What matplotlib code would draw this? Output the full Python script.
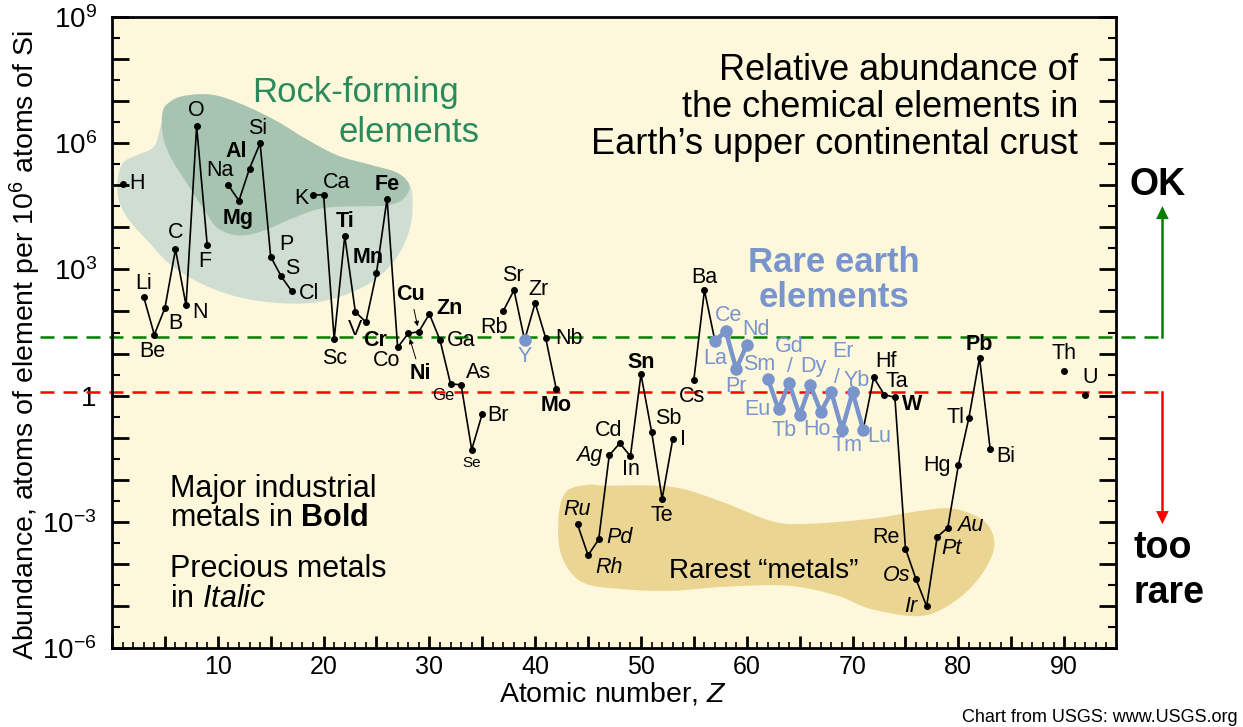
import numpy as np
import matplotlib.pyplot as plt
from matplotlib.ticker import FixedLocator, FuncFormatter, MultipleLocator
from matplotlib.transforms import blended_transform_factory

plt.rcParams['font.family'] = ['Liberation Sans', 'DejaVu Sans']
plt.rcParams['mathtext.fontset'] = 'custom'
plt.rcParams['mathtext.rm'] = 'Liberation Sans'
plt.rcParams['mathtext.it'] = 'Liberation Sans:italic'
plt.rcParams['mathtext.bf'] = 'Liberation Sans:bold'

# element data (abundance in atoms per 1e6 atoms of Si)
symbols = ['H', 'Li', 'Be', 'B', 'C', 'N', 'O', 'F',
           'Na', 'Mg', 'Al', 'Si', 'P', 'S', 'Cl',
           'K', 'Ca', 'Sc', 'Ti', 'V', 'Cr', 'Mn', 'Fe', 'Co', 'Ni', 'Cu', 'Zn',
           'Ga', 'Ge', 'As', 'Se', 'Br',
           'Rb', 'Sr', 'Y', 'Zr', 'Nb', 'Mo',
           'Ru', 'Rh', 'Pd', 'Ag', 'Cd', 'In', 'Sn', 'Sb', 'Te', 'I',
           'Cs', 'Ba', 'La', 'Ce', 'Pr', 'Nd',
           'Sm', 'Eu', 'Gd', 'Tb', 'Dy', 'Ho', 'Er', 'Tm', 'Yb', 'Lu',
           'Hf', 'Ta', 'W', 'Re', 'Os', 'Ir', 'Pt', 'Au', 'Hg', 'Tl', 'Pb', 'Bi',
           'Th', 'U']
atomic_z = [1, 3, 4, 5, 6, 7, 8, 9,
            11, 12, 13, 14, 15, 16, 17,
            19, 20, 21, 22, 23, 24, 25, 26, 27, 28, 29, 30,
            31, 32, 33, 34, 35,
            37, 38, 39, 40, 41, 42,
            44, 45, 46, 47, 48, 49, 50, 51, 52, 53,
            55, 56, 57, 58, 59, 60,
            62, 63, 64, 65, 66, 67, 68, 69, 70, 71,
            72, 73, 74, 75, 76, 77, 78, 79, 80, 81, 82, 83,
            90, 92]
abundance = [1.1e5, 220, 28, 120, 3000, 140, 2.5e6, 3800,
             1.0e5, 4.3e4, 2.5e5, 1.0e6, 2000, 680, 300,
             5.9e4, 5.9e4, 22, 6200, 98, 56, 830, 4.8e4, 14, 30, 33, 87,
             21, 1.9, 1.8, 0.052, 0.37,
             105, 320, 21, 160, 23, 1.4,
             8.7e-4, 1.6e-4, 3.8e-4, 0.038, 0.074, 0.036, 3.2, 0.14, 3.5e-3, 0.091,
             2.4, 320, 19.5, 35, 4.3, 16,
             2.5, 0.47, 2.0, 0.34, 1.8, 0.41, 1.2, 0.155, 1.2, 0.155,
             2.7, 1.05, 0.91, 2.3e-4, 4.3e-5, 9.8e-6, 4.4e-4, 7.2e-4, 0.022, 0.30, 7.9, 0.055,
             3.9, 1.05]

black_runs = [('Li', 'F'), ('Na', 'Cl'), ('K', 'Br'), ('Rb', 'Mo'),
              ('Ru', 'I'), ('Cs', 'La'), ('Lu', 'Bi')]
ree_runs = [('La', 'Nd'), ('Sm', 'Lu')]
ree_symbols = ['Y', 'La', 'Ce', 'Pr', 'Nd', 'Sm', 'Eu', 'Gd', 'Tb', 'Dy',
               'Ho', 'Er', 'Tm', 'Yb', 'Lu']
bold_symbols = ['Al', 'Mg', 'Ti', 'Mn', 'Cr', 'Fe', 'Ni', 'Cu', 'Zn',
                'Mo', 'Sn', 'W', 'Pb']
italic_symbols = ['Ru', 'Rh', 'Pd', 'Ag', 'Os', 'Ir', 'Pt', 'Au']
small_symbols = {'Ge': 12, 'Se': 11}

# label offsets (pixels, from the point)
label_offsets = {
    'H': (14, 0), 'Li': (0, 14), 'Be': (-2, -17), 'B': (10, -15), 'C': (0, 17),
    'N': (14, -7), 'O': (0, 16), 'F': (-2, -16), 'Na': (-8, 15), 'Mg': (-1, -18),
    'Al': (-13, 17), 'Si': (-2, 15), 'P': (16, 12), 'S': (11, 8), 'Cl': (17, -2),
    'K': (-12, -4), 'Ca': (13, 12), 'Sc': (0, -19), 'Ti': (0, 15), 'V': (0, -18),
    'Cr': (9, -18), 'Mn': (-8, 15), 'Fe': (0, 14), 'Co': (-11, -13),
    'Ni': (12, -40), 'Cu': (-8, 37), 'Zn': (20, 6), 'Ga': (21, -1),
    'Ge': (-7, -12), 'As': (17, 12), 'Se': (0, -13), 'Br': (16, -2),
    'Rb': (-9, -17), 'Sr': (-1, 15), 'Y': (0, -17), 'Zr': (3, 13), 'Nb': (23, 0),
    'Mo': (0, -16), 'Ru': (0, 15), 'Rh': (21, -12), 'Pd': (21, 2), 'Ag': (-20, 0),
    'Cd': (-11, 13), 'In': (1, -13), 'Sn': (0, 12), 'Sb': (17, 13), 'Te': (0, -17),
    'I': (10, 0), 'Cs': (-2, -17), 'Ba': (0, 13), 'La': (0, -17), 'Ce': (3, 15),
    'Pr': (0, -18), 'Nd': (9, 15), 'Sm': (-9, 14), 'Eu': (-21, 0), 'Gd': (0, 36),
    'Tb': (-16, -15), 'Dy': (3, 18), 'Ho': (-4, -18), 'Er': (12, 41), 'Tm': (5, -16),
    'Yb': (4, 12), 'Lu': (16, -7), 'Hf': (12, 16), 'Ta': (13, 13), 'W': (17, -7),
    'Re': (-20, 11), 'Os': (-19, 4), 'Ir': (-16, 0), 'Pt': (14, -12), 'Au': (22, 2),
    'Hg': (-21, 0), 'Tl': (-13, 0), 'Pb': (0, 13), 'Bi': (16, -8), 'Th': (0, 17),
    'U': (5, 17),
}
slash_offsets = {'Gd': (1, 16), 'Er': (5, 15)}

ok_level = 25
rare_level = 1.25

# outline shapes (Z, log10 abundance)
rock_outer = [(0.6, 5.24), (1.2, 5.57), (2.6, 5.74), (4.0, 5.93), (4.7, 6.48),
              (5.6, 7.0), (7.2, 7.14), (9.7, 7.14), (12.5, 6.9), (15.6, 6.52),
              (18.2, 6.12), (21.3, 5.71), (24.5, 5.48), (27.0, 5.29), (28.2, 4.98),
              (28.4, 4.57), (28.2, 4.02), (27.2, 3.4), (25.4, 2.86), (22.9, 2.48),
              (19.8, 2.24), (16.6, 2.19), (12.5, 2.31), (8.8, 2.62), (5.6, 3.1),
              (3.4, 3.67), (1.5, 4.21), (0.6, 4.69)]
rock_inner = [(4.8, 6.76), (5.6, 7.0), (7.2, 7.14), (9.7, 7.14), (12.5, 6.9),
              (15.6, 6.52), (18.2, 6.12), (21.3, 5.71), (24.5, 5.48), (27.0, 5.29),
              (28.1, 5.0), (27.6, 4.69), (26.0, 4.52), (22.9, 4.5), (19.8, 4.45),
              (17.0, 4.21), (14.1, 3.9), (11.9, 3.81), (10.0, 3.98), (8.8, 4.38),
              (7.2, 5.0), (5.6, 5.64), (4.8, 6.19)]
rare_metals = [(42.2, -2.93), (42.9, -2.29), (45.0, -2.12), (46.6, -2.14),
               (52.9, -2.17), (57.6, -2.52), (62.3, -2.98), (65.5, -3.05),
               (71.7, -2.93), (76.4, -2.74), (79.6, -2.69), (82.5, -3.0),
               (83.4, -3.57), (82.1, -4.29), (79.6, -4.9), (76.4, -5.24),
               (71.7, -5.07), (68.6, -4.76), (63.9, -4.52), (57.6, -4.55),
               (52.9, -4.64), (48.2, -4.6), (44.4, -4.43), (42.5, -3.81)]

bg = '#fdf8dc'
ree_blue = '#7a95cc'
green_txt = '#2b8a5c'

W, H = 1243, 727


def fpos(px, py):
    return px / W, 1 - py / H


def smooth_closed(pts, n=24):
    p = np.asarray(pts, float)
    m = len(p)
    t = np.linspace(0, 1, n, endpoint=False)[:, None]
    segs = []
    for i in range(m):
        p0, p1, p2, p3 = p[i - 1], p[i], p[(i + 1) % m], p[(i + 2) % m]
        segs.append(0.5 * (2 * p1 + (-p0 + p2) * t + (2 * p0 - 5 * p1 + 4 * p2 - p3) * t ** 2
                           + (-p0 + 3 * p1 - 3 * p2 + p3) * t ** 3))
    return np.vstack(segs)


idx = {s: i for i, s in enumerate(symbols)}
zz = np.array(atomic_z, float)
aa = np.array(abundance, float)

fig = plt.figure(figsize=(W / 100, H / 100), dpi=100)
ax = fig.add_axes([112 / W, 1 - 648 / H, (1116 - 112) / W, (648 - 17) / H])
ax.set_facecolor(bg)
ax.set_yscale('log')
ax.set_xlim(0, 94.9)
ax.set_ylim(1e-6, 1e9)

for shape, col in [(rock_outer, '#d0ddd2'), (rock_inner, '#a6c4b0'), (rare_metals, '#ebd592')]:
    xy = smooth_closed(shape)
    ax.fill(xy[:, 0], 10 ** xy[:, 1], color=col, lw=0, zorder=1)

# data lines
for a, b in black_runs:
    sl = slice(idx[a], idx[b] + 1)
    ax.plot(zz[sl], aa[sl], color='black', lw=1.2, zorder=3)
for a, b in ree_runs:
    sl = slice(idx[a], idx[b] + 1)
    ax.plot(zz[sl], aa[sl], color=ree_blue, lw=3.2, zorder=3, solid_joinstyle='miter')

is_ree = np.array([s in ree_symbols for s in symbols])
ax.plot(zz[~is_ree], aa[~is_ree], 'o', color='black', ms=4, zorder=4)
ax.plot(zz[is_ree], aa[is_ree], 'o', color=ree_blue, ms=8, zorder=4)

# element labels
for s in symbols:
    i = idx[s]
    dx, dy = label_offsets[s]
    kw = dict(fontsize=small_symbols.get(s, 15.5), ha='center', va='center', zorder=5,
              color=ree_blue if s in ree_symbols else 'black',
              fontweight='bold' if s in bold_symbols else 'normal',
              fontstyle='italic' if s in italic_symbols else 'normal')
    if s in ('Cu', 'Ni'):
        kw['arrowprops'] = dict(arrowstyle='-|>', lw=0.7, color='black',
                                mutation_scale=7, shrinkA=1, shrinkB=4)
    ax.annotate(s, (zz[i], aa[i]), xytext=(dx, dy), textcoords='offset pixels', **kw)
for s, (dx, dy) in slash_offsets.items():
    i = idx[s]
    ax.annotate('/', (zz[i], aa[i]), xytext=(dx, dy), textcoords='offset pixels',
                ha='center', va='center', fontsize=15, color=ree_blue, zorder=5)

# ticks
ax.yaxis.set_major_locator(FixedLocator(10.0 ** np.arange(-6, 10)))
ax.yaxis.set_minor_locator(FixedLocator(10.0 ** (np.arange(-6, 9) + 0.5)))


def ylab(v, pos):
    e = int(round(np.log10(v)))
    if e % 3:
        return ''
    if e == 0:
        return '1'
    return r'$10^{%d}$' % e


ax.yaxis.set_major_formatter(FuncFormatter(ylab))
ax.yaxis.set_minor_formatter(FuncFormatter(lambda v, p: ''))
ax.xaxis.set_major_locator(MultipleLocator(5))
ax.xaxis.set_minor_locator(MultipleLocator(1))
ax.xaxis.set_major_formatter(FuncFormatter(lambda v, p: '%d' % v if v % 10 == 0 and v > 0 else ''))
ax.tick_params(axis='y', which='major', direction='in', length=12, width=2,
               right=True, labelsize=20, pad=11)
ax.tick_params(axis='y', which='minor', direction='in', length=6, width=1.5, right=True)
ax.tick_params(axis='x', which='major', direction='in', length=9, width=2,
               labelsize=18, pad=5)
ax.tick_params(axis='x', which='minor', direction='in', length=4, width=1.2)
for sp in ax.spines.values():
    sp.set_linewidth(2)

# threshold lines and arrows
trans = blended_transform_factory(fig.transFigure, ax.transData)
ax.plot([40 / W, 1162 / W], [ok_level, ok_level], transform=trans, color='#008000',
        lw=1.8, dashes=(5.6, 3.6), clip_on=False, zorder=2)
ax.plot([40 / W, 1162 / W], [rare_level, rare_level], transform=trans, color='#ff0000',
        lw=1.8, dashes=(5.6, 3.6), clip_on=False, zorder=2)
inv = fig.transFigure.inverted()
y_ok = inv.transform(ax.transData.transform((1, ok_level)))[1]
y_rare = inv.transform(ax.transData.transform((1, rare_level)))[1]
fig.add_artist(plt.Line2D([1162 / W] * 2, [y_ok, fpos(0, 215)[1]], color='#008000', lw=1.8))
fig.add_artist(plt.Line2D([1162 / W] * 2, [y_rare, fpos(0, 515)[1]], color='#ff0000', lw=1.8))
fig.text(*fpos(1162, 204), '\u25B2', color='#008000', fontsize=12, ha='center', va='top',
         family='DejaVu Sans')
fig.text(*fpos(1162, 527), '\u25BC', color='#ff0000', fontsize=12, ha='center', va='bottom',
         family='DejaVu Sans')

# annotations
fig.text(*fpos(252, 102), 'Rock-forming', fontsize=25, color=green_txt, va='baseline')
fig.text(*fpos(338, 142), 'elements', fontsize=25, color=green_txt, va='baseline')
for k, line in enumerate(['Relative abundance of', 'the chemical elements in',
                          'Earth\u2019s upper continental crust']):
    fig.text(*fpos(1078, 80 + 37 * k), line, fontsize=26, ha='right', va='baseline')
fig.text(*fpos(834, 272), 'Rare earth', fontsize=25, fontweight='bold', color=ree_blue,
         ha='center', va='baseline')
fig.text(*fpos(834, 307), 'elements', fontsize=25, fontweight='bold', color=ree_blue,
         ha='center', va='baseline')
fig.text(*fpos(170, 497), 'Major industrial', fontsize=22, va='baseline')
fig.text(*fpos(170, 526), r'metals in $\mathbf{Bold}$', fontsize=22, va='baseline')
fig.text(*fpos(170, 577), 'Precious metals', fontsize=22, va='baseline')
fig.text(*fpos(170, 607), r'in $\mathit{Italic}$', fontsize=22, va='baseline')
fig.text(*fpos(764, 578), 'Rarest \u201cmetals\u201d', fontsize=20, ha='center', va='baseline')
fig.text(*fpos(1158, 195), 'OK', fontsize=27, fontweight='bold', ha='center', va='baseline')
fig.text(*fpos(1133, 558), 'too', fontsize=27, fontweight='bold', va='baseline')
fig.text(*fpos(1133, 603), 'rare', fontsize=27, fontweight='bold', va='baseline')
fig.text(*fpos(1238, 722), 'Chart from USGS: www.USGS.org', fontsize=13, ha='right',
         va='baseline')

fig.text(*fpos(25, 345), r'Abundance, atoms of element per 10$^6$ atoms of Si',
         fontsize=20.5, rotation=90, ha='center', va='center')
fig.text(*fpos(613, 694), r'Atomic number, $Z$', fontsize=20.5, ha='center', va='center')

fig.savefig('out.png', dpi=100)
